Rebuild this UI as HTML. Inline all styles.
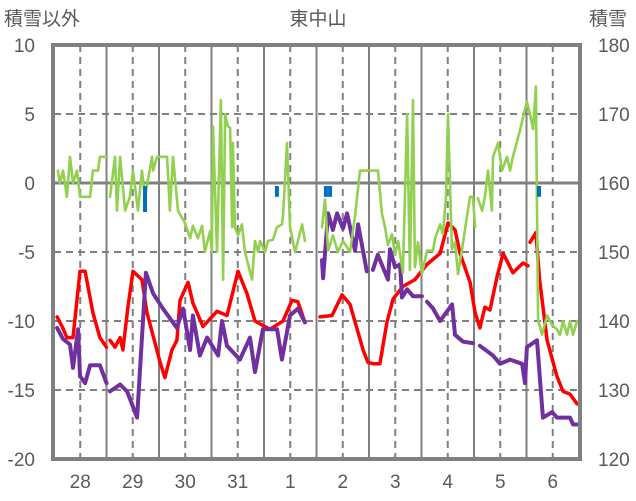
<!DOCTYPE html>
<html><head><meta charset="utf-8">
<style>
body{margin:0;background:#fff;}
svg{display:block;font-family:"Liberation Sans","Noto Sans CJK JP",sans-serif;}
</style></head>
<body>
<svg id="chart" width="636" height="501" viewBox="0 0 636 501" xmlns="http://www.w3.org/2000/svg">
<text x="318" y="25" font-size="19" fill="#595959" text-anchor="middle">東中山</text>
<text x="4" y="25" font-size="19" fill="#595959">積雪以外</text>
<text x="589" y="25" font-size="19" fill="#595959">積雪</text>
<g id="grid"></g>
<g id="series"></g>
<g id="axes"></g>
</svg>
<script>
const dayLabels = ["28","29","30","31","1","2","3","4","5","6"];
const leftTicks = [10,5,0,-5,-10,-15,-20];
const rightTicks = [180,170,160,150,140,130,120];

const redT = [1.4,3.7,5.9,8.7,11.9,14.2,17.8,21,24,null,25.6,27.9,30.2,31.5,33.8,36.1,40.2,42.5,48.5,50.7,53.9,56.2,57.6,61.3,63.5,68.1,74.5,79.1,84.1,88.2,91.9,98.7,104.7,108.8,111.5,114.7,null,121.6,127.1,131.7,135.3,141.3,143.5,146,149,152.2,155,159.5,165,170.5,176.5,180.1,183.3,185.6,190.2,192.5,194.7,197,199.3,202.5,205.3,209.8,214.4,216.7,null,217.6,220.3,222,225.4,229.9,232.7,235.9,239.1];
const redV = [-9.7,-10.4,-11.2,-11.2,-6.4,-6.4,-9.4,-11.2,-11.9,null,-11.4,-11.9,-11.2,-12.1,-9.0,-6.4,-7.0,-9.4,-13.0,-14.1,-12.1,-11.4,-8.5,-7.2,-8.7,-10.4,-9.3,-9.6,-6.4,-8.0,-10.0,-10.6,-10.0,-8.5,-8.6,-10.1,null,-9.7,-9.6,-8.1,-8.8,-12.1,-13.0,-13.1,-13.1,-10.1,-8.4,-7.5,-7.0,-5.9,-5.1,-2.9,-3.4,-5.1,-7.2,-9.4,-10.5,-9.0,-9.2,-6.8,-5.1,-6.5,-5.8,-6.0,null,-4.3,-3.6,-7.0,-11.4,-14.0,-15.1,-15.3,-16.0];

const purT = [1.4,4.1,7.3,8.7,11,11.9,14.2,16.5,21,24,null,25.6,30.2,33.4,38,42,45.3,49.8,56.2,59,62.2,63.5,66.7,70,75,76.8,79.1,85,89.6,91.9,95.5,102,104.2,107.9,111.5,114.7,null,122.5,123,125.3,127.5,129.4,132.1,134,137.6,139,143,null,145.8,148,152.7,153.6,155.9,158.2,159.1,161.4,164.1,168.2,null,170.5,173.3,176.5,182,183.3,187,191.5,null,194.7,200.7,203.9,208.5,214,215.3,216.2,220.8,223.5,227.7,229.9,235.9,237.3,239.5];
const purV = [-10.5,-11.3,-11.7,-13.4,-10.6,-14.0,-14.5,-13.2,-13.2,-14.5,null,-15.1,-14.6,-15.1,-17.0,-6.5,-8.0,-9.1,-10.5,-9.1,-12.1,-9.6,-12.5,-11.2,-12.5,-10.0,-11.8,-12.8,-11.2,-13.7,-10.6,-10.6,-12.8,-9.6,-9.1,-10.1,null,-5.6,-6.9,-2.2,-3.4,-2.2,-3.3,-2.2,-4.9,-3.0,-6.4,null,-6.3,-5.2,-7.0,-4.8,-6.1,-5.9,-8.3,-7.7,-8.2,-8.2,null,-8.6,-9.1,-10.0,-8.8,-11.0,-11.5,-11.6,null,-11.8,-12.5,-13.1,-12.8,-13.1,-14.5,-11.9,-11.4,-17.0,-16.6,-17.0,-17.0,-17.5,-17.5];

const grnT = [1.8,2.7,4.1,5.9,7.3,8.7,10.5,11.9,16.5,17.8,20.1,21,24.2,null,25.6,27.9,28.8,30.2,32.5,34.7,36.1,38.4,40.2,41.6,44.8,45.3,47.1,51.7,53,54.4,56.7,59.9,62.2,63.5,65.8,67.7,69,71.3,72.2,72.7,74.5,76.3,77.3,78.2,79.5,80.5,81.4,81.8,82.7,84.1,85.9,87.3,90.5,91.9,93.3,94.2,96.5,97.8,100.1,101.9,104.2,104.7,106.5,107.9,110.2,113.4,114.7,null,122.5,123.9,125.3,127.5,129.8,132.1,135.3,137.6,139.9,142.2,148.1,149.9,151.3,152.7,154.5,155.9,157.3,159.5,161.4,162.7,164.1,165,166.4,168.2,170.5,173.3,174.2,176.5,177.8,179.2,180.1,181.9,183.3,184.7,187,188.8,190.2,191.5,192.5,null,193.8,195.7,197,198.4,200.2,200.7,203,204.8,207.1,208.5,209.8,213,216.2,217.6,219,220.3,220.8,221.3,223.1,225.4,227.7,229.9,231.3,232.7,234.5,235.9,237.3,239.1];
const grnV = [0.9,0,0.9,-1,1.9,0,0.9,-1,-1,0.9,0.9,1.9,1.9,null,-1,1.9,-2,1.9,-2,-1,0.9,-2,0.9,-1,1.9,0.9,1.9,1.9,-2,1.9,-2,-2.9,-4,-3.1,-4,-3.1,-5,-3.5,-5,4.1,-5,6.0,-7.0,5.0,4.1,4.0,-3.2,2.9,-3.2,-3.8,-3.0,-5,-7,-4.2,-5,-4.2,-5,-4.2,-4.1,-3.2,-3.0,-2.4,2.9,-3.2,-5,-3,-4.2,null,-3.2,-1.2,-4.9,-3.8,-5,-4.2,-5,-2.4,0.9,0.9,0.9,-2.2,-3.2,-4.5,-3.7,-5.2,-4.2,-6.5,5.0,-6.3,6.0,-6.1,-4.3,-6.6,-4.9,-4.9,-4.0,-3.0,-3.7,-1.0,5.0,-4.8,-4.3,-6.6,-4.3,-2.4,-1.0,-1.0,-3.2,null,-1.1,-2.0,-1.0,0.9,-2.0,1.9,2.9,0.9,1.9,0.9,1.9,3.8,5.9,5.0,3.9,7.0,-2.0,-9.9,-11,-9.6,-10.3,-10.6,-11,-10,-11,-10,-11,-10];

const barT = [41.6,101.9,124.3,126.2,221.7];
const barV = [-2.1,-1,-1,-1,-1];

const L=54, R=579, T=45, B=459;
const x = h => L + h*(R-L)/240;
const y = v => T + (10 - v)*(B-T)/30;
const NS="http://www.w3.org/2000/svg";
function mk(tag, attrs, parent){const e=document.createElementNS(NS,tag);for(const k in attrs)e.setAttribute(k,attrs[k]);parent.appendChild(e);return e;}
const grid=document.getElementById('grid'), series=document.getElementById('series'), axes=document.getElementById('axes');
const GC="#808080";
// horizontal gridlines
leftTicks.forEach((v,i)=>{
  if(v===10||v===-20) return;
  const l=mk('line',{x1:L,x2:R,y1:y(v),y2:y(v),stroke:GC,'stroke-width':v===0?3:2,'stroke-dasharray':v===0?'none':'7,5'},grid);
  
  
});
// vertical gridlines
for(let d=0; d<10; d++){
  const xn=x(d*24+12);
  const l=mk('line',{x1:xn,x2:xn,y1:T,y2:B,stroke:GC,'stroke-width':2,'stroke-dasharray':'7,5'},grid);
  
  
  if(d>0){
    const xs=x(d*24);
    const s=mk('line',{x1:xs,x2:xs,y1:T,y2:B,stroke:GC,'stroke-width':2},grid);
    
    
  }
  const t=mk('text',{x:xn,y:488,'font-size':19,fill:'#595959','text-anchor':'middle'},axes);
  t.textContent=dayLabels[d];
  
  
}
leftTicks.forEach(v=>{
  const t=mk('text',{x:35,y:y(v)+7,'font-size':19,fill:'#595959','text-anchor':'end'},axes);
  t.textContent=v;
  
  
});
rightTicks.forEach((v,i)=>{
  const t=mk('text',{x:598,y:y(leftTicks[i])+7,'font-size':19,fill:'#595959'},axes);
  t.textContent=v;
  
  
});
const frame=mk('rect',{x:L-1,y:T,width:R-L+2,height:B-T,fill:'none',stroke:GC,'stroke-width':4},axes);



function line(ts, vs, color, w, name){
  let d='', pen=false;
  ts.forEach((t,i)=>{
    if(t===null||vs[i]===null){pen=false;return;}
    d += (pen?'L':'M') + x(t).toFixed(1)+','+y(vs[i]).toFixed(1)+' ';
    pen=true;
  });
  const p=mk('path',{d:d,fill:'none',stroke:color,'stroke-width':w,'stroke-linejoin':'round','stroke-linecap':'round'},series);
  
  
}
line(redT, redV, '#ff0000', 3.5, 'red-series-line');
line(purT, purV, '#7030a0', 4, 'purple-series-line');
line(grnT, grnV, '#92d050', 2.6, 'green-series-line');
barT.forEach((t,i)=>{
  const b=mk('rect',{x:x(t)-2,y:y(0)+3,width:4,height:Math.max(0,y(barV[i])-y(0)-3),fill:'#0070c0'},series);
  
  
});
</script>
</body></html>
